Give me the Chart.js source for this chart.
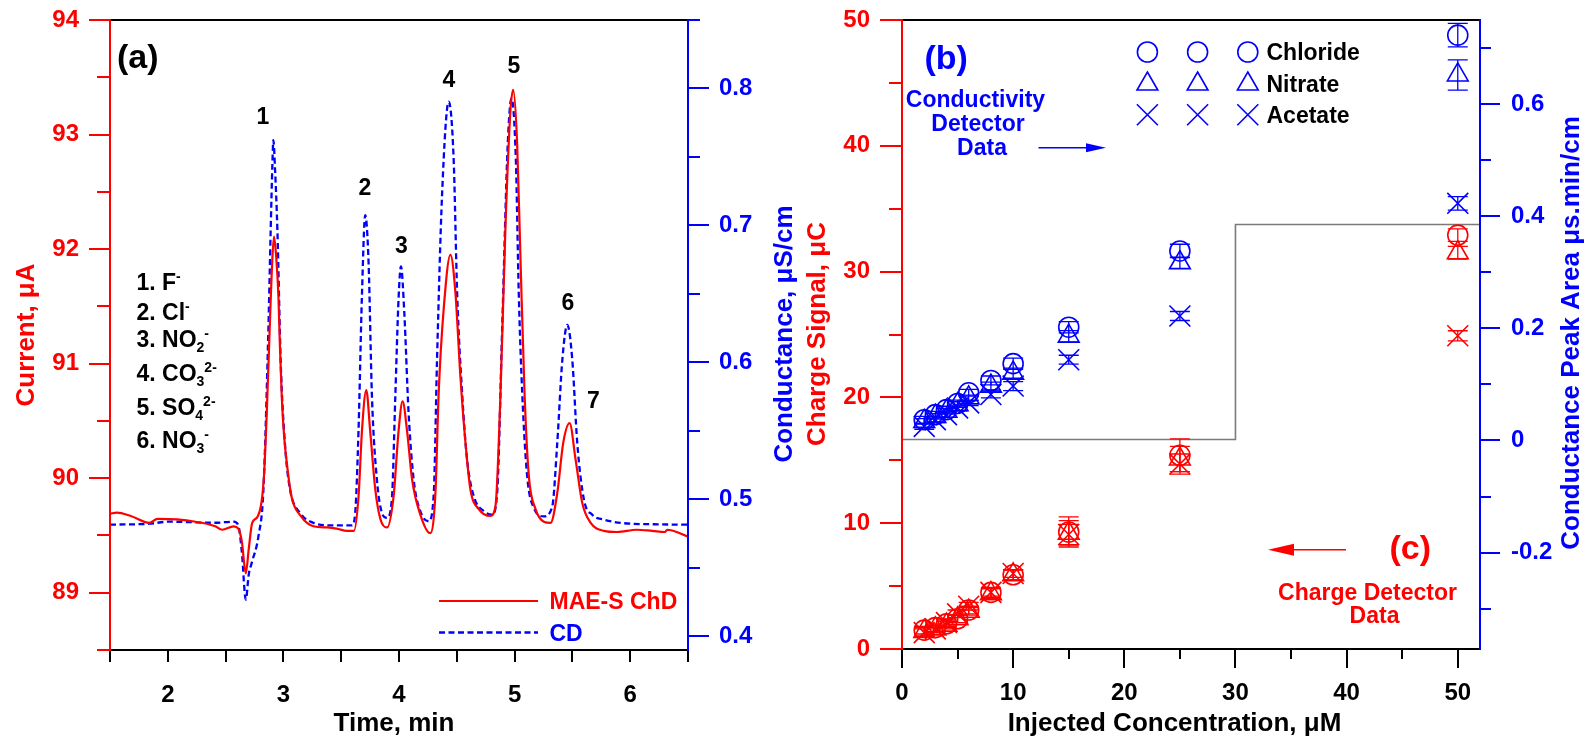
<!DOCTYPE html>
<html>
<head>
<meta charset="utf-8">
<script src="https://cdn.jsdelivr.net/npm/chart.js@4.4.0/dist/chart.umd.min.js"></script>
<style>
  html, body { margin: 0; padding: 0; background: #fff; }
  #wrap { position: relative; width: 1587px; height: 739px; overflow: hidden; }
  canvas { position: absolute; top: 0; }
  #chartA { left: 0; }
  #chartB { left: 800px; }
</style>
</head>
<body>
<div id="wrap">
  <canvas id="chartA" width="800" height="739"></canvas>
  <canvas id="chartB" width="787" height="739"></canvas>
</div>
<script>
// chromatogram + calibration figure, two chart.js canvases side by side
const RED = '#ff0000', BLUE = '#0000ff', BLACK = '#000000', GRAY = '#7a7a7a';
const FONT = "'Liberation Sans', Arial, Helvetica, sans-serif";

// ---- panel (a): chromatograms
const chdTime = [1.50, 1.56, 1.68, 1.84, 1.91, 2.08, 2.24, 2.41, 2.47, 2.57, 2.61, 2.64, 2.675, 2.70, 2.73, 2.78, 2.83, 2.856, 2.885, 2.905, 2.919, 2.938, 2.957, 2.97, 2.986, 3.006, 3.03, 3.07, 3.15, 3.26, 3.38, 3.46, 3.55, 3.61, 3.65, 3.68, 3.717, 3.75, 3.795, 3.84, 3.896, 3.953, 3.997, 4.031, 4.069, 4.113, 4.185, 4.27, 4.315, 4.343, 4.386, 4.445, 4.488, 4.531, 4.575, 4.618, 4.69, 4.79, 4.835, 4.878, 4.921, 4.964, 4.988, 5.022, 5.051, 5.086, 5.123, 5.181, 5.253, 5.311, 5.369, 5.421, 5.476, 5.528, 5.586, 5.658, 5.773, 5.888, 6.055, 6.19, 6.30, 6.32, 6.50];
const chdCurrent = [89.69, 89.70, 89.67, 89.61, 89.645, 89.64, 89.62, 89.58, 89.55, 89.58, 89.56, 89.45, 89.17, 89.38, 89.61, 89.67, 89.99, 90.57, 91.41, 91.93, 92.11, 91.93, 91.59, 91.15, 90.71, 90.37, 90.13, 89.84, 89.67, 89.58, 89.57, 89.56, 89.54, 89.54, 89.84, 90.42, 90.77, 90.42, 89.90, 89.64, 89.57, 89.84, 90.42, 90.67, 90.42, 89.99, 89.68, 89.52, 89.87, 90.74, 91.47, 91.95, 91.62, 90.89, 90.31, 89.90, 89.73, 89.67, 89.76, 90.74, 92.20, 93.21, 93.39, 92.92, 91.91, 90.74, 90.02, 89.73, 89.62, 89.61, 89.87, 90.31, 90.48, 90.16, 89.78, 89.61, 89.54, 89.53, 89.55, 89.54, 89.53, 89.55, 89.49];

const cdTime = [1.50, 1.84, 2.01, 2.41, 2.57, 2.61, 2.64, 2.675, 2.70, 2.726, 2.784, 2.827, 2.87, 2.89, 2.905, 2.913, 2.928, 2.948, 2.977, 3.015, 3.058, 3.145, 3.26, 3.40, 3.593, 3.621, 3.65, 3.679, 3.708, 3.737, 3.766, 3.809, 3.853, 3.896, 3.939, 3.968, 3.997, 4.017, 4.046, 4.083, 4.127, 4.185, 4.257, 4.301, 4.329, 4.373, 4.43, 4.473, 4.503, 4.546, 4.589, 4.647, 4.736, 4.806, 4.849, 4.893, 4.941, 4.973, 5.011, 5.036, 5.066, 5.109, 5.167, 5.253, 5.326, 5.369, 5.413, 5.456, 5.499, 5.542, 5.60, 5.672, 5.773, 5.918, 6.20, 6.50];
const cdConductance = [0.4815, 0.4822, 0.4837, 0.4829, 0.4837, 0.481, 0.462, 0.4268, 0.445, 0.4536, 0.473, 0.507, 0.6237, 0.6967, 0.7453, 0.7623, 0.7404, 0.6967, 0.5995, 0.5386, 0.507, 0.490, 0.4828, 0.481, 0.481, 0.490, 0.5508, 0.648, 0.7076, 0.6724, 0.575, 0.5143, 0.490, 0.4864, 0.501, 0.575, 0.648, 0.670, 0.636, 0.563, 0.5143, 0.4912, 0.484, 0.5046, 0.6019, 0.7234, 0.7903, 0.7477, 0.6505, 0.5776, 0.5289, 0.5022, 0.4912, 0.4888, 0.5046, 0.6262, 0.7599, 0.7927, 0.7477, 0.6505, 0.5776, 0.5167, 0.4937, 0.4876, 0.4949, 0.5411, 0.6019, 0.6274, 0.6019, 0.5411, 0.4997, 0.4888, 0.4852, 0.4828, 0.4818, 0.4815];

const timeTicks = [2, 3, 4, 5, 6];
const timeMinor = [1.5, 2.5, 3.5, 4.5, 5.5, 6.5];
const currentTicks = [89, 90, 91, 92, 93, 94];
const currentMinor = [88.5, 89.5, 90.5, 91.5, 92.5, 93.5];
const condTicks = [0.4, 0.5, 0.6, 0.7, 0.8];
const condMinor = [0.45, 0.55, 0.65, 0.75, 0.85];

const peakNames = ['1', '2', '3', '4', '5', '6', '7'];
const peakNamePos = [[263, 124], [365, 195], [401.5, 252.5], [449, 86.5], [514, 73], [568, 310], [593.5, 408]];
const ionLines = [
  [['1. F', 0], ['-', 1]],
  [['2. Cl', 0], ['-', 1]],
  [['3. NO', 0], ['2', -1], ['-', 1]],
  [['4. CO', 0], ['3', -1], ['2-', 1]],
  [['5. SO', 0], ['4', -1], ['2-', 1]],
  [['6. NO', 0], ['3', -1], ['-', 1]]
];
const ionBaselines = [290, 319.5, 347, 381, 414.5, 447.5];

// ---- panel (b)/(c): calibration
const concentration = [2, 3, 4, 5, 6, 8, 10, 15, 25, 50];
const chlorideArea = [0.037, 0.046, 0.055, 0.066, 0.085, 0.107, 0.137, 0.202, 0.338, 0.723];
const nitrateArea  = [0.034, 0.043, 0.052, 0.064, 0.076, 0.097, 0.120, 0.186, 0.317, 0.652];
const acetateArea  = [0.025, 0.037, 0.046, 0.058, 0.067, 0.082, 0.097, 0.144, 0.222, 0.423];
const chlorideAreaErr = [0.006, 0.006, 0.006, 0.006, 0.006, 0.008, 0.010, 0.010, 0.012, 0.021];
const nitrateAreaErr  = [0.005, 0.005, 0.005, 0.005, 0.005, 0.007, 0.009, 0.010, 0.010, 0.027];
const acetateAreaErr  = [0.005, 0.005, 0.005, 0.005, 0.005, 0.006, 0.008, 0.008, 0.008, 0.012];

const chlorideCharge = [1.5, 1.7, 2.0, 2.4, 3.1, 4.5, 5.9, 9.3, 15.4, 32.9];
const nitrateCharge  = [1.4, 1.6, 1.9, 2.4, 3.0, 4.4, 5.9, 9.2, 15.1, 31.5];
const acetateCharge  = [1.3, 1.6, 2.1, 2.8, 3.4, 4.5, 6.0, 9.1, 14.7, 24.9];
const chlorideChargeErr = [0.3, 0.3, 0.3, 0.3, 0.3, 0.4, 0.4, 1.2, 1.3, 0.5];
const nitrateChargeErr  = [0.3, 0.3, 0.3, 0.3, 0.3, 0.4, 0.4, 1.0, 1.0, 0.5];
const acetateChargeErr  = [0.3, 0.3, 0.3, 0.3, 0.3, 0.3, 0.3, 0.8, 0.8, 0.4];

const dividerConc = [0, 30, 30, 52];
const dividerCharge = [16.65, 16.65, 33.75, 33.75];

const concTicks = [0, 10, 20, 30, 40, 50];
const concMinor = [5, 15, 25, 35, 45];
const chargeTicks = [0, 10, 20, 30, 40, 50];
const chargeMinor = [5, 15, 25, 35, 45];
const areaTicks = [-0.2, 0, 0.2, 0.4, 0.6];
const areaMinor = [-0.3, -0.1, 0.1, 0.3, 0.5, 0.7];

const ionNames = ['Chloride', 'Nitrate', 'Acetate'];
const ionStyles = ['circle', 'triangle', 'crossRot'];

// ---------- helpers
function pairs(xs, ys) { return xs.map((x, i) => ({ x: x, y: ys[i] })); }
function fmt(v) { return String(Number(v.toFixed(3))); }

// fixed axis box size, and no extra label padding pushing the plot area around
function fixedAxis(size, vertical) {
    return function(s) {
        if (vertical) { s.width = size; s.paddingTop = 0; s.paddingBottom = 0; }
        else { s.height = size; s.paddingLeft = 0; s.paddingRight = 0; }
    };
}
function setTicks(values) {
    return function(s) { s.ticks = values.map(v => ({ value: v })); };
}

function text(ctx, str, x, y, size, color, align) {
    ctx.save();
    ctx.font = 'bold ' + size + 'px ' + FONT;
    ctx.fillStyle = color;
    ctx.textAlign = align || 'left';
    ctx.textBaseline = 'alphabetic';
    ctx.fillText(str, x, y);
    ctx.restore();
}
function vtext(ctx, str, x, y, size, color) {
    ctx.save();
    ctx.translate(x, y);
    ctx.rotate(-Math.PI / 2);
    ctx.font = 'bold ' + size + 'px ' + FONT;
    ctx.fillStyle = color;
    ctx.textAlign = 'center';
    ctx.textBaseline = 'alphabetic';
    ctx.fillText(str, 0, 0);
    ctx.restore();
}
function runs(ctx, parts, x, y, size, color) {
    ctx.save();
    ctx.fillStyle = color;
    ctx.textBaseline = 'alphabetic';
    parts.forEach(p => {
        const small = p[1] !== 0;
        ctx.font = 'bold ' + (small ? 14 : size) + 'px ' + FONT;
        const dy = p[1] > 0 ? -9 : (p[1] < 0 ? 5 : 0);
        ctx.fillText(p[0], x, y + dy);
        x += ctx.measureText(p[0]).width;
    });
    ctx.restore();
}
function arrow(ctx, x1, x2, y, color, headLen, headHalf) {
    ctx.save();
    ctx.strokeStyle = color; ctx.fillStyle = color; ctx.lineWidth = 1.5;
    const dir = x2 > x1 ? 1 : -1;
    ctx.beginPath(); ctx.moveTo(x1, y); ctx.lineTo(x2 - dir * headLen * 0.5, y); ctx.stroke();
    ctx.beginPath();
    ctx.moveTo(x2, y);
    ctx.lineTo(x2 - dir * headLen, y - headHalf);
    ctx.lineTo(x2 - dir * headLen, y + headHalf);
    ctx.closePath(); ctx.fill();
    ctx.restore();
}
function marker(ctx, style, x, y, color) {
    ctx.save();
    ctx.strokeStyle = color; ctx.lineWidth = 1.6;
    ctx.beginPath();
    if (style === 'circle') {
        ctx.arc(x, y, 10, 0, Math.PI * 2);
    } else if (style === 'triangle') {
        const r = 12;
        ctx.moveTo(x, y - r);
        ctx.lineTo(x + r * 0.866, y + r * 0.5);
        ctx.lineTo(x - r * 0.866, y + r * 0.5);
        ctx.closePath();
    } else {
        const d = 10.5;
        ctx.moveTo(x - d, y - d); ctx.lineTo(x + d, y + d);
        ctx.moveTo(x - d, y + d); ctx.lineTo(x + d, y - d);
    }
    ctx.stroke();
    ctx.restore();
}

// tick marks and frame drawn by hand: outward ticks, major/minor lengths
function drawTicks(chart, id, values, len, color) {
    const s = chart.scales[id], a = chart.chartArea, ctx = chart.ctx;
    ctx.save();
    ctx.strokeStyle = color; ctx.lineWidth = 2;
    ctx.beginPath();
    values.forEach(v => {
        const p = Math.round(s.getPixelForValue(v));
        if (s.isHorizontal()) { ctx.moveTo(p, a.bottom); ctx.lineTo(p, a.bottom + len); }
        else if (s.position === 'left') { ctx.moveTo(a.left, p); ctx.lineTo(a.left - len, p); }
        else { ctx.moveTo(a.right, p); ctx.lineTo(a.right + len, p); }
    });
    ctx.stroke();
    ctx.restore();
}
function drawFrame(chart, leftColor, rightColor) {
    const a = chart.chartArea, ctx = chart.ctx;
    ctx.save();
    ctx.lineWidth = 2;
    ctx.strokeStyle = BLACK;
    ctx.beginPath(); ctx.moveTo(a.left, a.top); ctx.lineTo(a.right, a.top); ctx.stroke();
    ctx.beginPath(); ctx.moveTo(a.left, a.bottom); ctx.lineTo(a.right, a.bottom); ctx.stroke();
    ctx.strokeStyle = leftColor;
    ctx.beginPath(); ctx.moveTo(a.left, a.top - 1); ctx.lineTo(a.left, a.bottom + 1); ctx.stroke();
    ctx.strokeStyle = rightColor;
    ctx.beginPath(); ctx.moveTo(a.right, a.top - 1); ctx.lineTo(a.right, a.bottom + 1); ctx.stroke();
    ctx.restore();
}
function drawErrorBars(chart) {
    const ctx = chart.ctx;
    chart.data.datasets.forEach((ds, i) => {
        if (!ds.errorBars) return;
        const meta = chart.getDatasetMeta(i);
        const ys = chart.scales[ds.yAxisID];
        ctx.save();
        ctx.strokeStyle = ds.borderColor; ctx.lineWidth = 1.3;
        meta.data.forEach((pt, j) => {
            const v = ds.data[j].y, e = ds.errorBars[j];
            const top = ys.getPixelForValue(v + e), bot = ys.getPixelForValue(v - e);
            ctx.beginPath();
            ctx.moveTo(pt.x, top); ctx.lineTo(pt.x, bot);
            ctx.moveTo(pt.x - 10, top); ctx.lineTo(pt.x + 10, top);
            ctx.moveTo(pt.x - 10, bot); ctx.lineTo(pt.x + 10, bot);
            ctx.stroke();
        });
        ctx.restore();
    });
}

function baseScale(opts) {
    return Object.assign({
        type: 'linear',
        grid: { display: false, drawTicks: false },
        border: { display: false }
    }, opts);
}
function tickOpts(color, pad) {
    return { font: { family: FONT, size: 24, weight: 'bold' }, color: color, padding: pad, autoSkip: false, maxRotation: 0, callback: v => fmt(v) };
}

Chart.defaults.font.family = FONT;
Chart.defaults.animation = false;

// ---------- chart A: chromatograms
const decorA = {
    id: 'decorA',
    afterDraw(chart) {
        const ctx = chart.ctx;
        drawTicks(chart, 'x', timeTicks, 12, BLACK);
        drawTicks(chart, 'x', timeMinor, 12, BLACK);
        drawTicks(chart, 'y', currentTicks, 21, RED);
        drawTicks(chart, 'y', currentMinor, 13, RED);
        drawTicks(chart, 'y2', condTicks, 21, BLUE);
        drawTicks(chart, 'y2', condMinor, 12, BLUE);
        drawFrame(chart, RED, BLUE);

        vtext(ctx, 'Current, \u03bcA', 34, 335, 26, RED);
        vtext(ctx, 'Conductance, \u03bcS/cm', 791.5, 334, 26, BLUE);
        text(ctx, 'Time, min', 394, 731, 26, BLACK, 'center');

        text(ctx, '(a)', 117, 67.5, 34, BLACK);
        peakNames.forEach((n, i) => text(ctx, n, peakNamePos[i][0], peakNamePos[i][1], 23, BLACK, 'center'));
        ionLines.forEach((l, i) => runs(ctx, l, 136.5, ionBaselines[i], 23, BLACK));

        // legend
        ctx.save();
        ctx.lineWidth = 2.2; ctx.strokeStyle = RED;
        ctx.beginPath(); ctx.moveTo(439, 601); ctx.lineTo(538, 601); ctx.stroke();
        ctx.lineWidth = 2.3; ctx.strokeStyle = BLUE; ctx.setLineDash([6, 3.5]);
        ctx.beginPath(); ctx.moveTo(439, 632.5); ctx.lineTo(538, 632.5); ctx.stroke();
        ctx.restore();
        text(ctx, 'MAE-S ChD', 549.5, 609, 23, RED);
        text(ctx, 'CD', 549.5, 641, 23, BLUE);
    }
};

new Chart(document.getElementById('chartA'), {
    type: 'scatter',
    data: {
        datasets: [
            { label: 'MAE-S ChD', data: pairs(chdTime, chdCurrent), yAxisID: 'y', showLine: true,
              borderColor: RED, borderWidth: 2.2, pointRadius: 0, cubicInterpolationMode: 'monotone' },
            { label: 'CD', data: pairs(cdTime, cdConductance), yAxisID: 'y2', showLine: true,
              borderColor: BLUE, borderWidth: 2.3, borderDash: [6, 3.5], pointRadius: 0, cubicInterpolationMode: 'monotone' }
        ]
    },
    options: {
        responsive: false,
        events: [],
        layout: { padding: { top: 20, left: 0, right: 0, bottom: 0 } },
        plugins: { legend: { display: false }, tooltip: { enabled: false } },
        scales: {
            x: baseScale({ position: 'bottom', min: 1.5, max: 6.5, afterFit: fixedAxis(89, false), afterBuildTicks: setTicks(timeTicks), ticks: tickOpts(BLACK, 31) }),
            y: baseScale({ position: 'left', min: 88.5, max: 94, afterFit: fixedAxis(110, true), afterBuildTicks: setTicks(currentTicks), ticks: tickOpts(RED, 31) }),
            y2: baseScale({ position: 'right', min: 0.39, max: 0.85, afterFit: fixedAxis(112, true), afterBuildTicks: setTicks(condTicks), ticks: tickOpts(BLUE, 31) })
        }
    },
    plugins: [decorA]
});

// ---------- chart B: calibration (conductivity + charge detector)
const decorB = {
    id: 'decorB',
    afterDatasetsDraw(chart) { drawErrorBars(chart); },
    afterDraw(chart) {
        const ctx = chart.ctx;
        drawTicks(chart, 'x', concTicks, 19, BLACK);
        drawTicks(chart, 'x', concMinor, 10, BLACK);
        drawTicks(chart, 'y', chargeTicks, 22, RED);
        drawTicks(chart, 'y', chargeMinor, 13, RED);
        drawTicks(chart, 'y2', areaTicks, 20, BLUE);
        drawTicks(chart, 'y2', areaMinor, 11, BLUE);
        drawFrame(chart, RED, BLUE);

        vtext(ctx, 'Charge Signal, \u03bcC', 24.5, 334, 26, RED);
        vtext(ctx, 'Conductance Peak Area \u03bcs.min/cm', 779, 333, 26, BLUE);
        text(ctx, 'Injected Concentration, \u03bcM', 374.5, 731, 26, BLACK, 'center');

        text(ctx, '(b)', 124.5, 68.5, 34, BLUE);
        text(ctx, 'Conductivity', 175.5, 106.5, 23, BLUE, 'center');
        text(ctx, 'Detector', 178, 130.5, 23, BLUE, 'center');
        text(ctx, 'Data', 182, 155, 23, BLUE, 'center');
        arrow(ctx, 238.5, 306, 147.7, BLUE, 20, 4.5);

        text(ctx, '(c)', 589.5, 559, 34, RED);
        text(ctx, 'Charge Detector', 567.5, 599.5, 23, RED, 'center');
        text(ctx, 'Data', 574.5, 623, 23, RED, 'center');
        arrow(ctx, 546, 468, 549.8, RED, 26, 6);

        // legend: three marker columns + name
        const rowsY = [52, 84, 114.7];
        const colsX = [347.4, 397.6, 447.8];
        ionNames.forEach((n, r) => {
            colsX.forEach(cx => marker(ctx, ionStyles[r], cx, rowsY[r], BLUE));
            text(ctx, n, 466.5, rowsY[r] + 8.2, 23, BLACK);
        });
    }
};

function markerSet(label, ys, errs, style, color, axis) {
    return {
        label: label, data: pairs(concentration, ys), yAxisID: axis, errorBars: errs,
        pointStyle: style, pointRadius: style === 'circle' ? 10 : (style === 'triangle' ? 12 : 14.8),
        pointBorderWidth: 1.6, borderColor: color, pointBorderColor: color,
        backgroundColor: 'rgba(0,0,0,0)', pointBackgroundColor: 'rgba(0,0,0,0)', showLine: false
    };
}

new Chart(document.getElementById('chartB'), {
    type: 'scatter',
    data: {
        datasets: [
            markerSet('Chloride CD', chlorideArea, chlorideAreaErr, 'circle', BLUE, 'y2'),
            markerSet('Nitrate CD', nitrateArea, nitrateAreaErr, 'triangle', BLUE, 'y2'),
            markerSet('Acetate CD', acetateArea, acetateAreaErr, 'crossRot', BLUE, 'y2'),
            markerSet('Chloride ChD', chlorideCharge, chlorideChargeErr, 'circle', RED, 'y'),
            markerSet('Nitrate ChD', nitrateCharge, nitrateChargeErr, 'triangle', RED, 'y'),
            markerSet('Acetate ChD', acetateCharge, acetateChargeErr, 'crossRot', RED, 'y'),
            { label: 'divider', data: pairs(dividerConc, dividerCharge), yAxisID: 'y', showLine: true,
              borderColor: GRAY, borderWidth: 1.6, pointRadius: 0, tension: 0 }
        ]
    },
    options: {
        responsive: false,
        events: [],
        layout: { padding: { top: 20, left: 0, right: 0, bottom: 0 } },
        plugins: { legend: { display: false }, tooltip: { enabled: false } },
        scales: {
            x: baseScale({ position: 'bottom', min: 0, max: 52, afterFit: fixedAxis(90, false), afterBuildTicks: setTicks(concTicks), ticks: tickOpts(BLACK, 30) }),
            y: baseScale({ position: 'left', min: 0, max: 50, afterFit: fixedAxis(102, true), afterBuildTicks: setTicks(chargeTicks), ticks: tickOpts(RED, 32) }),
            y2: baseScale({ position: 'right', min: -0.372, max: 0.75, afterFit: fixedAxis(107, true), afterBuildTicks: setTicks(areaTicks), ticks: tickOpts(BLUE, 31) })
        }
    },
    plugins: [decorB]
});
</script>
</body>
</html>
